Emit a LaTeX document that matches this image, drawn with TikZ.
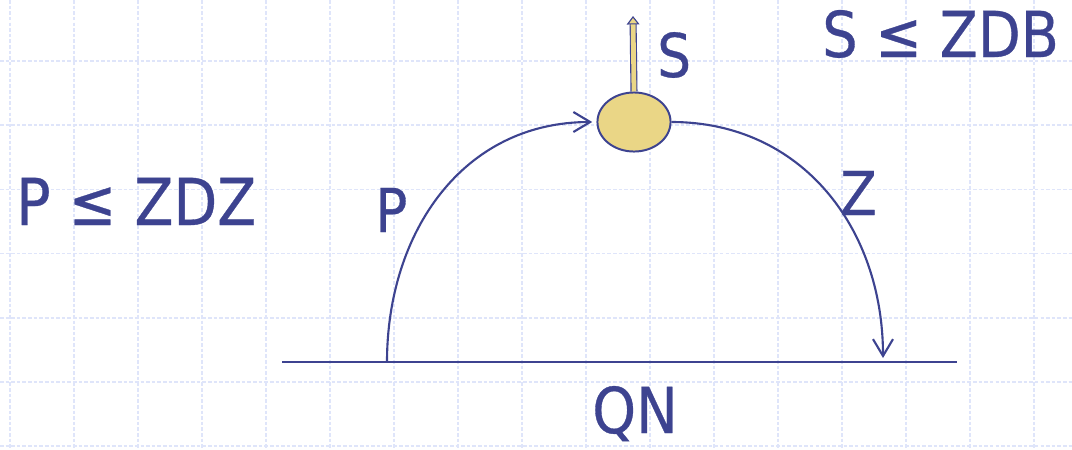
\documentclass[tikz,border=0pt]{standalone}
\usepackage{fontspec}
\setmainfont{DejaVu Sans}[FakeStretch=0.88, FakeBold=0.5]
\usepackage{xcolor}
\usepackage{tikz}
\usetikzlibrary{positioning,shapes.geometric,arrows.meta}
\definecolor{ink}{HTML}{3D4390}
\definecolor{sand}{HTML}{EAD686}
\definecolor{gridblue}{HTML}{DFE5FA}

\tikzset{
  gridline/.style={gridblue, line width=1.1pt, dash pattern=on 2.5pt off 1.5pt},
  flow/.style={ink, line width=1.5pt, -{Straight Barb[length=4.2mm, width=5mm]}},
  baseline/.style={ink, line width=1.5pt},
  dot/.style={ellipse, draw=ink, line width=1.4pt, fill=sand,
              minimum width=52pt, minimum height=42pt, inner sep=0pt},
  stem/.style={draw=ink, line width=0.8pt, double=sand, double distance=3.4pt,
               -{Triangle[fill=sand, length=6pt, width=9pt]}},
  lbl/.style={text=ink, inner sep=0pt, anchor=base west,
              font=\fontsize{43}{50}\selectfont},
  biglbl/.style={lbl, font=\fontsize{46}{54}\selectfont}
}

\begin{document}
\begin{tikzpicture}[x=0.025cm, y=-0.025cm]
\useasboundingbox (0,0) rectangle (1072,449);
\fill[white] (0,0) rectangle (1072,449);

% background grid
\foreach \gx in {0,...,16}
  \draw[gridline] (10+64*\gx,0) -- (10+64*\gx,449);
\foreach \gy in {0,...,6}
  \draw[gridline] (0,61+64.2*\gy) -- (1072,61+64.2*\gy);

% market line
\coordinate (qleft) at (282,362);
\coordinate (qright) at (957,362);
\coordinate (pfoot) at (387,362);
\coordinate (zfoot) at (883,358);
\coordinate (top) at (633,16);
\draw[baseline] (qleft) -- (qright);

% the saver
\node[dot] (src) at (634,122) {};
\draw[stem] (src.north) -- (top);

% flows
\draw[flow] (pfoot) to[out=90, in=180, looseness=1.05] ([xshift=-3pt]src.west);
\draw[flow] (src.east) to[out=0, in=90, looseness=1.05] (zfoot);

% labels
\node[lbl] (slbl) at (657,77) {S};
\node[lbl] (plbl) at (375,232) {P};
\node[lbl] (zlbl) at (840,215) {Z};
\node[lbl, font=\fontsize{45}{52}\selectfont] (qn) at (592,433) {QN};
\node[biglbl] (pcond) at (16,225) {P ≤ ZDZ};
\node[lbl, font=\fontsize{45}{52}\selectfont] (scond) at (822,57) {S ≤ ZDB};
\end{tikzpicture}
\end{document}
